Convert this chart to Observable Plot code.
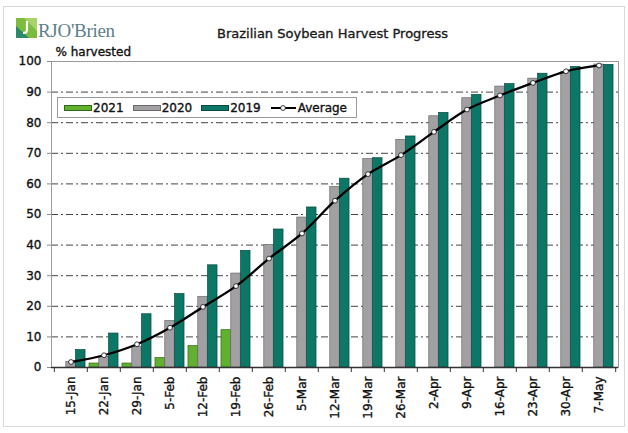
<!DOCTYPE html>
<html>
<head>
<meta charset="utf-8">
<script src="https://cdn.jsdelivr.net/npm/d3@7"></script>
<script src="https://cdn.jsdelivr.net/npm/@observablehq/plot@0.6"></script>
<style>
  body { margin: 0; background: #fff; }
  #wrap { position: relative; width: 628px; height: 433px; font-family: "DejaVu Sans", sans-serif; color: #111; overflow: hidden; background: #fff; }
  #border { position: absolute; left: 3px; top: 6px; width: 620px; height: 419px; border: 1px solid #dadada; z-index: 0; }
  #header { position: relative; height: 40px; z-index: 1; }
  #logoIcon { position: absolute; left: 16px; top: 18px; }
  #logoText { position: absolute; left: 38px; top: 21px; font-family: "Liberation Serif", serif; font-size: 19px; line-height: 19px; color: #5e8088; letter-spacing: -0.3px; }
  #title { position: absolute; left: 217px; top: 27px; font-size: 13px; line-height: 13px; color: #1a1a1a; -webkit-text-stroke: 0.35px #1a1a1a; }
  #chart { position: relative; z-index: 1; }
  #chart text { stroke: #111; stroke-width: 0.35px; }
  #legend { position: absolute; left: 57px; top: 97px; width: 298px; height: 19px; border: 1px solid #9a9a9a; background: #fff; z-index: 2; display: flex; align-items: center; font-size: 12px; -webkit-text-stroke: 0.35px #111; }
  .item { display: flex; align-items: center; margin-right: 9px; }
  .sw { width: 26px; height: 4px; border: 1px solid; margin-right: 1px; }
</style>
</head>
<body>
<div id="wrap">
  <div id="border"></div>
  <div id="header">
    <svg id="logoIcon" width="21" height="20" viewBox="0 0 21 20">
      <rect x="0" y="0" width="21" height="20" fill="#7dbb3f"/>
      <polygon points="0,20 0,8 13,20" fill="#2a8a6a"/>
      <polygon points="8,0 21,0 21,13" fill="#a8d36a"/>
      <path d="M11 3 L11 12 Q11 15 7 15" stroke="#fff" stroke-width="2.2" fill="none"/>
    </svg>
    <div id="logoText">RJO'Brien</div>
    <div id="title">Brazilian Soybean Harvest Progress</div>
  </div>
  <div id="chart"></div>
  <div id="legend"></div>
</div>
<script>
// ---- data ----
const dates = ["15-Jan","22-Jan","29-Jan","5-Feb","12-Feb","19-Feb","26-Feb","5-Mar","12-Mar","19-Mar","26-Mar","2-Apr","9-Apr","16-Apr","23-Apr","30-Apr","7-May"];
const y2021 = [null, 1.3, 1.3, 3.1, 7.0, 12.2, null, null, null, null, null, null, null, null, null, null, null];
const y2020 = [1.8, 3.5, 6.8, 15.2, 23.1, 30.7, 40.0, 49.0, 59.0, 68.1, 74.4, 82.1, 88.0, 91.8, 94.4, 96.5, 99.0];
const y2019 = [5.7, 11.1, 17.4, 24.0, 33.4, 38.1, 45.1, 52.3, 61.7, 68.4, 75.5, 83.2, 89.1, 92.6, 96.0, 98.2, 98.9];
const average = [1.8, 4.0, 7.6, 13.0, 19.8, 26.6, 35.6, 43.8, 54.5, 63.2, 69.4, 77.0, 84.3, 88.9, 93.0, 96.8, 98.7];
const yTicks = [0, 10, 20, 30, 40, 50, 60, 70, 80, 90, 100];
const gridTicks = [10, 20, 30, 40, 50, 60, 70, 80, 90];
const seriesNames = ["2021", "2020", "2019"];
const lineName = "Average";
const yLabel = "% harvested";

// ---- style ----
const fills = {"2021": "#62b02f", "2020": "#a3a0a3", "2019": "#0c7766"};
const strokes = {"2021": "#2f6a14", "2020": "#6a6a6a", "2019": "#064a3f"};

const W = 628, H = 393, mL = 51, mR = 10, mT = 21, mB = 66;
const bw = (W - mL - mR) / dates.length;
const barW = 9.8;
const pad = (bw - 3 * barW) / 2;

const rows = (vals) => dates.map((d, i) => ({date: d, v: vals[i]})).filter(r => r.v != null);
const seriesVals = {"2021": y2021, "2020": y2020, "2019": y2019};

const barMarks = seriesNames.map((s, k) => Plot.barY(rows(seriesVals[s]), {
  x: "date", y: "v",
  fill: fills[s], stroke: strokes[s], strokeWidth: 0.7,
  insetLeft: pad + k * barW,
  insetRight: bw - pad - (k + 1) * barW
}));

const chart = Plot.plot({
  width: W, height: H,
  marginTop: mT, marginBottom: mB, marginLeft: mL, marginRight: mR,
  style: {fontFamily: "DejaVu Sans", fontSize: "12px", background: "transparent", color: "#111", overflow: "visible"},
  x: {domain: dates, padding: 0},
  y: {domain: [0, 100]},
  marks: [
    Plot.gridY(gridTicks, {stroke: "#444", strokeOpacity: 1, strokeDasharray: "7,3,2,3"}),
    ...barMarks,
    Plot.lineY(rows(average), {x: "date", y: "v", curve: "catmull-rom", stroke: "#000", strokeWidth: 2.3}),
    Plot.dot(rows(average), {x: "date", y: "v", r: 2.4, fill: "#fff", stroke: "#222", strokeWidth: 0.9}),
    Plot.frame({stroke: "#9a9a9a"}),
    Plot.ruleY([0], {stroke: "#333", strokeWidth: 1.5}),
    Plot.ruleX(dates, {x: d => d, y1: 0, y2: 0, insetBottom: -5, dx: -bw / 2, stroke: "#333"}),
    Plot.ruleX([dates[dates.length - 1]], {x: d => d, y1: 0, y2: 0, insetBottom: -5, dx: bw / 2, stroke: "#333"}),
    Plot.axisY(yTicks, {tickSize: 4, tickPadding: 6, label: null, stroke: "#888"}),
    Plot.axisX({tickSize: 0, tickPadding: 9, tickRotate: -90, label: null}),
    Plot.text([yLabel], {frameAnchor: "top-left", lineAnchor: "bottom", dx: 4, dy: -6, fontSize: 12, fill: "#111"})
  ]
});
document.getElementById("chart").appendChild(chart);

// ---- legend ----
const legend = document.getElementById("legend");
const lp = document.createElement("div");
lp.style.width = "8px";
legend.appendChild(lp);
seriesNames.forEach(s => {
  const it = document.createElement("div");
  it.className = "item";
  const sw = document.createElement("div");
  sw.className = "sw";
  sw.style.background = fills[s];
  sw.style.borderColor = strokes[s];
  const t = document.createElement("span");
  t.textContent = s;
  it.appendChild(sw); it.appendChild(t);
  legend.appendChild(it);
});
const li = document.createElement("div");
li.className = "item";
li.innerHTML = '<svg width="27" height="10" style="margin-right:1px"><line x1="1" y1="5" x2="26" y2="5" stroke="#000" stroke-width="2"/><circle cx="13" cy="5" r="2.4" fill="#fff" stroke="#222" stroke-width="0.9"/></svg>';
const lt = document.createElement("span");
lt.textContent = lineName;
li.appendChild(lt);
legend.appendChild(li);
</script>
</body>
</html>
